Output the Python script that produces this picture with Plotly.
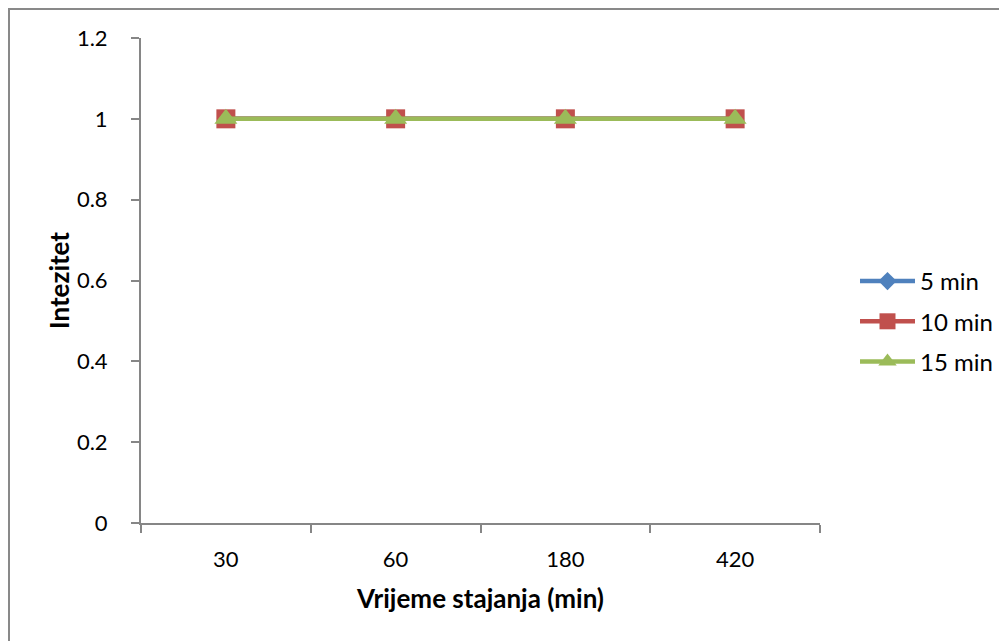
import plotly.graph_objects as go

categories = ["30", "60", "180", "420"]
series_names = ["5 min", "10 min", "15 min"]
values_5 = [1, 1, 1, 1]
values_10 = [1, 1, 1, 1]
values_15 = [1, 1, 1, 1]
y_ticks = [0, 0.2, 0.4, 0.6, 0.8, 1, 1.2]
y_tick_labels = ["0", "0.2", "0.4", "0.6", "0.8", "1", "1.2"]

colors = ["#4F81BD", "#C0504D", "#9BBB59"]
symbols = ["diamond", "square", "triangle-up"]
sizes = [14, 19, 20]
FONT = "Lato, Carlito, Calibri, sans-serif"

fig = go.Figure()
for i, (name, vals) in enumerate(zip(series_names, [values_5, values_10, values_15])):
    fig.add_trace(go.Scatter(
        x=categories, y=vals, name=name, mode="lines+markers",
        line=dict(color=colors[i], width=4.5),
        marker=dict(symbol=symbols[i], size=sizes[i], color=colors[i]),
        legendgroup=name,
    ))

# page is offset by 8px body margin; positions below are in figure pixels
L, R, T, B = 133, 812, 30, 515
W, H = 1007, 641

def px_x(p):
    return (p - L) / (R - L)

def px_y(p):
    return (B - p) / (B - T)

fig.add_shape(type="rect", xref="paper", yref="paper",
              x0=px_x(1), x1=px_x(1030), y0=px_y(1), y1=px_y(680),
              line=dict(color="#898989", width=2), layer="below")

fig.update_layout(
    width=W, height=H,
    margin=dict(l=L, r=W - R, t=T, b=H - B, pad=0),
    paper_bgcolor="white", plot_bgcolor="white",
    font=dict(family=FONT, size=22, color="black"),
    showlegend=True,
    legend=dict(x=px_x(847), xanchor="left", y=px_y(251), yanchor="top",
                font=dict(size=24), tracegroupgap=6, traceorder="grouped",
                itemwidth=55, bgcolor="rgba(0,0,0,0)"),
    xaxis=dict(
        type="category", range=[-0.5, 3.5],
        showline=True, linecolor="#868686", linewidth=2,
        ticks="outside", tickson="boundaries", ticklen=8, tickcolor="#868686", tickwidth=2,
        showgrid=False, zeroline=False,
        ticklabelstandoff=16,
        tickfont=dict(size=22),
        title=dict(text="<b>Vrijeme stajanja (min)</b>", font=dict(size=26), standoff=18),
    ),
    yaxis=dict(
        range=[0, 1.2], tickvals=y_ticks, ticktext=y_tick_labels,
        showline=True, linecolor="#868686", linewidth=2,
        ticks="outside", ticklen=8, tickcolor="#868686", tickwidth=2,
        showgrid=False, zeroline=False,
        ticklabelstandoff=19,
        tickfont=dict(size=22),
        title=dict(text="<b>Intezitet</b>", font=dict(size=26), standoff=0),
    ),
)

fig.write_html("out.html")
